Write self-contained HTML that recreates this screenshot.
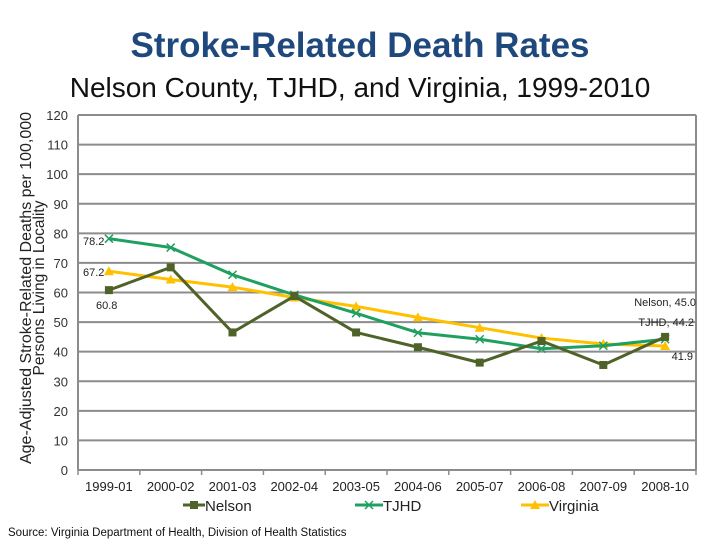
<!DOCTYPE html>
<html><head><meta charset="utf-8"><style>
body{margin:0;background:#fff;}
svg text{font-family:"Liberation Sans",sans-serif;}
</style></head><body>
<svg width="720" height="540" xmlns="http://www.w3.org/2000/svg">
<text x="360" y="57" text-anchor="middle" font-size="35" font-weight="bold" fill="#1F497D">Stroke-Related Death Rates</text>
<text x="360" y="97" text-anchor="middle" font-size="28" fill="#111">Nelson County, TJHD, and Virginia, 1999-2010</text>
<g transform="translate(31,288) rotate(-90)">
<text x="0" y="0" text-anchor="middle" font-size="15.5" fill="#222" textLength="352" lengthAdjust="spacingAndGlyphs">Age-Adjusted Stroke-Related Deaths per 100,000</text>
<text x="0" y="13" text-anchor="middle" font-size="15.5" fill="#222">Persons Living in Locality</text>
</g>
<g id="grid"></g>
<g id="series"></g>
<g id="labels" font-size="11" fill="#222">
<text x="83" y="245">78.2</text>
<text x="83" y="276">67.2</text>
<text x="96" y="309">60.8</text>
<text x="696" y="306" text-anchor="end">Nelson, 45.0</text>
<text x="694" y="326" text-anchor="end">TJHD, 44.2</text>
<text x="693" y="360" text-anchor="end">41.9</text>
</g>
<g font-size="15" fill="#222">
<line x1="183" y1="505" x2="205" y2="505" stroke="#4F6228" stroke-width="3"/>
<rect x="190" y="501" width="8" height="8" fill="#4F6228"/>
<text x="205" y="511">Nelson</text>
<line x1="355" y1="505" x2="383" y2="505" stroke="#1FA060" stroke-width="3"/>
<path d="M365,501 l8,8 M373,501 l-8,8" stroke="#1FA060" stroke-width="1.5"/>
<text x="383" y="511">TJHD</text>
<line x1="521" y1="505" x2="549" y2="505" stroke="#FFC000" stroke-width="3"/>
<path d="M535,500 l5,9 h-10 z" fill="#FFC000"/>
<text x="549" y="511">Virginia</text>
</g>
<text x="8" y="536" font-size="11.5" fill="#111">Source: Virginia Department of Health, Division of Health Statistics</text>
</svg>
<script>
const categories=["1999-01","2000-02","2001-03","2002-04","2003-05","2004-06","2005-07","2006-08","2007-09","2008-10"];
const nelson=[60.8,68.5,46.5,58.8,46.5,41.5,36.3,43.6,35.5,45.0];
const tjhd=[78.2,75.2,66.0,59.2,53.0,46.4,44.2,41.0,42.0,44.2];
const virginia=[67.2,64.4,61.8,58.3,55.3,51.6,48.1,44.6,42.6,41.9];
const yTicks=[0,10,20,30,40,50,60,70,80,90,100,110,120];
const NS="http://www.w3.org/2000/svg";
const X0=78,X1=696,Y0=470,Y1=115;
const bw=(X1-X0)/categories.length;
const xs=i=>X0+bw*(i+0.5);
const ys=v=>Y0-(v/120)*(Y0-Y1);
function mk(tag,attrs,parent){const e=document.createElementNS(NS,tag);for(const k in attrs)e.setAttribute(k,attrs[k]);parent.appendChild(e);return e;}
const grid=document.getElementById('grid');
yTicks.forEach(t=>{
 if(t>0){const l=mk('line',{x1:X0,x2:X1,y1:ys(t),y2:ys(t),stroke:'#8c8c8c','stroke-width':2},grid);
 
 }
 const tx=mk('text',{x:68,y:ys(t)+5,'text-anchor':'end','font-size':13,fill:'#333'},grid);tx.textContent=t;
 
 
});
mk('line',{x1:X0,x2:X0,y1:Y1,y2:Y0,stroke:'#8c8c8c','stroke-width':2},grid);
mk('line',{x1:X1,x2:X1,y1:Y1,y2:Y0,stroke:'#8c8c8c','stroke-width':2},grid);
mk('line',{x1:X0,x2:X1,y1:Y0,y2:Y0,stroke:'#8c8c8c','stroke-width':2},grid);
for(let i=0;i<=categories.length;i++)mk('line',{x1:X0+bw*i,x2:X0+bw*i,y1:Y0,y2:Y0+5,stroke:'#8c8c8c','stroke-width':1.5},grid);
categories.forEach((c,i)=>{const t=mk('text',{x:xs(i),y:491,'text-anchor':'middle','font-size':13,fill:'#222'},grid);t.textContent=c;
 
 });
const sg=document.getElementById('series');
function line(data,color,name,marker){
 const p=mk('polyline',{points:data.map((v,i)=>xs(i)+','+ys(v)).join(' '),fill:'none',stroke:color,'stroke-width':3,'stroke-linejoin':'round'},sg);
 
 
 data.forEach((v,i)=>{const x=xs(i),y=ys(v);let m;
  if(marker==='sq')m=mk('rect',{x:x-4,y:y-4,width:8,height:8,fill:color},sg);
  else if(marker==='x')m=mk('path',{d:`M${x-4},${y-4}l8,8M${x+4},${y-4}l-8,8`,stroke:color,'stroke-width':1.5},sg);
  else m=mk('path',{d:`M${x},${y-5}l5,9h-10z`,fill:color},sg);
  
  });
}
line(virginia,'#FFC000','virginia','tri');
line(tjhd,'#1FA060','tjhd','x');
line(nelson,'#4F6228','nelson','sq');
</script>
</body></html>
